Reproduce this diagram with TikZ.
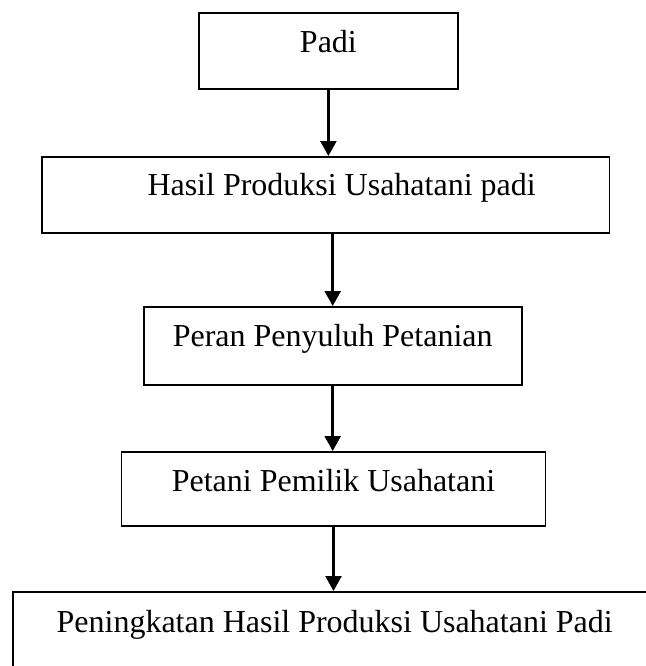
\documentclass[tikz,border=0pt]{standalone}
\usepackage{fontspec}
\setmainfont{Liberation Serif}
\usetikzlibrary{arrows.meta}
\begin{document}
\begin{tikzpicture}[
    kotak/.style={draw, line width=0.018cm, rectangle, anchor=north west, inner sep=0pt, text height=0.40cm, text depth=0.36cm},
    panah/.style={line width=0.024cm, -{Triangle[length=0.15cm,width=0.16cm]}}]
                    \useasboundingbox (0,0) rectangle (6.460000,6.660000);
                    \clip (0,0) rectangle (6.460000,6.660000);
                    {\fontsize{9.1pt}{11pt}\selectfont

                    % Drawing box Padi
                    \node (padi) [kotak, minimum width=2.590000cm] at (1.980000,6.540000) {Padi};%

                    % Drawing box Hasil Produksi
                    \node (hasil) [kotak, minimum width=5.680000cm, text height=0.390000cm, text depth=0.370000cm] at (0.407000,5.100000) {\hspace{0.32cm}Hasil Produksi Usahatani padi};%

                    % Drawing box Peran Penyuluh
                    \node (peran) [kotak, minimum width=3.780000cm, text depth=0.380000cm] at (1.428000,3.600000) {Peran Penyuluh Petanian};%

                    % Drawing box Petani Pemilik
                    \node (petani) [kotak, minimum width=4.240000cm, text depth=0.340000cm] at (1.206000,2.150000) {Petani Pemilik Usahatani};%

                    % Drawing box Peningkatan Hasil
                    \node (tingkat) [kotak, minimum width=6.430000cm, text height=0.410000cm, text depth=0.500000cm] at (0.123000,0.750000) {Peningkatan Hasil Produksi Usahatani Padi};%

                    % Drawing arrows between boxes
                    \draw [panah] (padi.south) -- (padi.south |- hasil.north);%
                    \draw [panah] (hasil.south -| peran.north) -- (peran.north);%
                    \draw [panah] (peran.south) -- (peran.south |- petani.north);%
                    \draw [panah] (petani.south) -- (petani.south |- tingkat.north);%
                    }
\end{tikzpicture}
\end{document}
